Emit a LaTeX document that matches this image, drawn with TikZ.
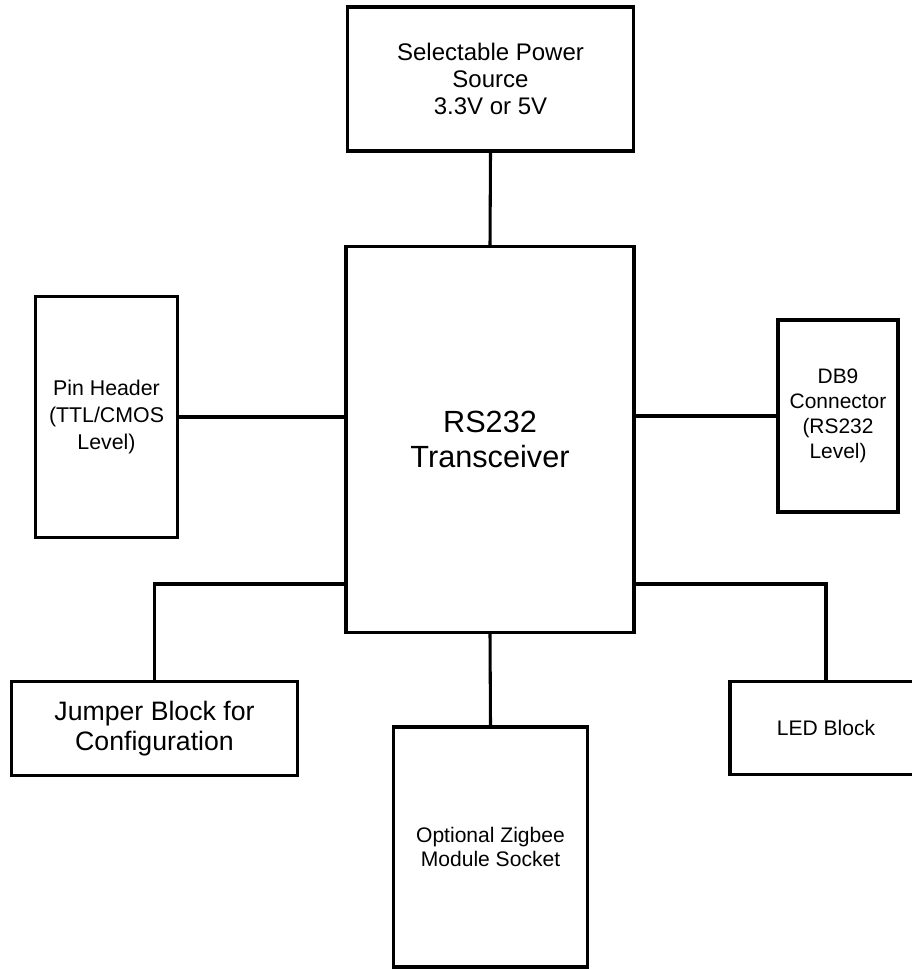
\documentclass[tikz,border=0pt]{standalone}
\usepackage{fontspec}
\setmainfont{Liberation Sans}
\usetikzlibrary{positioning}

\begin{document}
\begin{tikzpicture}[
  x=0.75pt, y=-0.75pt,
  blk/.style={rectangle, draw=black, line width=2.3pt, align=center,
              inner sep=0pt, font=\fontsize{16}{20}\selectfont},
  wire/.style={draw=black, line width=2.3pt}
]
\useasboundingbox (0,0) rectangle (911,969);

\node[blk, minimum width=215pt, minimum height=108pt,
      font=\fontsize{18}{20}\selectfont] (pwr) at (490.5,79)
  {Selectable Power\\Source\\3.3V or 5V};
\node[blk, minimum width=216pt, minimum height=289pt,
      font=\fontsize{23}{26}\selectfont] (rs) at (490,439.5)
  {RS232\\Transceiver};
\node[blk, minimum width=107pt, minimum height=181pt] (pin) at (106.5,417)
  {Pin Header\\(TTL/CMOS\\Level)};
\node[blk, minimum width=90pt, minimum height=144pt,
      font=\fontsize{15.7}{18.8}\selectfont] (db9) at (838,416)
  {DB9\\Connector\\(RS232\\Level)};
\node[blk, minimum width=215pt, minimum height=71pt,
      font=\fontsize{20}{22.5}\selectfont] (jmp) at (154.5,728.5)
  {Jumper Block for\\Configuration};
\node[blk, minimum width=145pt, minimum height=180pt,
      font=\fontsize{15.8}{17.5}\selectfont] (zig) at (490.5,847)
  {Optional Zigbee\\Module Socket};
\node[blk, minimum width=144pt, minimum height=70pt,
      font=\fontsize{15.8}{18}\selectfont] (led) at (826,728)
  {LED Block};

% taps on the transceiver for the lower blocks
\coordinate (tapL) at (346,584);
\coordinate (tapR) at (634,584);

\draw[wire] (pwr.south) -- (rs.north);
\draw[wire] (pin.east) -- (pin.east -| rs.west);
\draw[wire] (db9.west) -- (db9.west -| rs.east);
\draw[wire] (rs.south) -- (zig.north);
\draw[wire] (tapL) -| (jmp.north);
\draw[wire] (tapR) -| (led.north);
\end{tikzpicture}
\end{document}
